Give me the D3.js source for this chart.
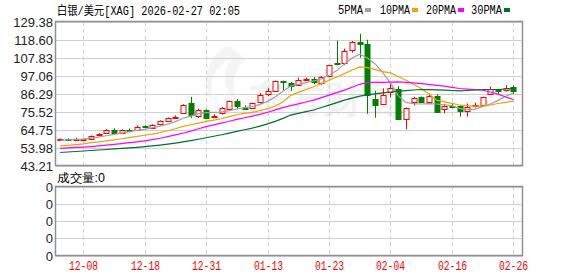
<!DOCTYPE html>
<html>
<head>
<meta charset="utf-8">
<script src="https://cdn.jsdelivr.net/npm/d3@7/dist/d3.min.js"></script>
<style>
  body { margin: 0; background: #fff; }
  text { font-family: "Liberation Sans", Arial, sans-serif; }
  .mono { font-family: "Liberation Mono", "Noto Sans CJK SC", monospace; }
</style>
</head>
<body>
<div id="chart"></div>
<script>
var dates = ["12-03","12-04","12-05","12-08","12-09","12-10","12-11","12-12","12-15","12-16",
  "12-17","12-18","12-19","12-22","12-23","12-24","12-26","12-29","12-30","12-31",
  "01-02","01-05","01-06","01-07","01-08","01-09","01-12","01-13","01-14","01-15",
  "01-16","01-19","01-20","01-21","01-22","01-23","01-26","01-27","01-28","01-29",
  "01-30","02-02","02-03","02-04","02-05","02-06","02-09","02-10","02-11","02-12",
  "02-13","02-16","02-17","02-18","02-19","02-20","02-23","02-24","02-25","02-26"];

var opens  = [58.8,59.0,58.9,59.1,59.3,61.3,62.9,64.5,62.9,64.6, 64.7,66.7,65.9,68.2,70.0,72.3,74.4,80.9,72.8,76.6,
  72.9,74.4,77.2,82.1,77.9,77.4,81.0,85.7,87.7,93.8, 92.6,91.4,94.4,95.0,92.6,97.0,104.6,104.5,112.1,117.4,
  116.1,82.9,80.1,87.3,88.7,71.2,81.1,84.1,81.5,84.7, 76.8,78.9,78.8,75.6,79.3,79.5,85.9,88.9,88.3,89.9];
var highs  = [59.4,59.5,59.8,59.3,61.2,62.5,64.9,65.5,64.9,65.4, 67.1,67.3,67.9,70.2,72.0,73.2,79.9,84.3,77.2,76.8,
  73.9,78.2,82.1,83.1,79.3,80.9,86.6,89.5,94.0,94.0, 93.2,95.8,95.8,96.2,96.8,103.2,118.0,113.1,117.7,122.0,
  118.4,87.9,89.3,92.2,90.7,78.0,84.3,84.5,86.3,85.9, 80.0,80.3,79.2,80.3,80.7,84.3,90.3,89.1,91.3,91.0];
var lows   = [58.5,58.6,58.7,58.9,59.1,60.6,62.3,62.1,62.6,63.6, 64.3,66.0,65.5,67.8,69.7,71.6,74.0,71.6,71.6,71.2,
  71.9,73.6,76.9,76.8,76.3,77.2,80.3,84.7,87.5,88.2, 87.9,90.9,94.2,91.8,91.4,96.6,103.2,103.2,110.7,107.7,
  74.2,71.8,79.5,83.9,71.2,64.9,79.1,80.9,81.3,74.8, 74.4,77.5,72.4,72.4,77.9,79.3,85.5,85.9,87.5,85.9];
var closes = [59.1,58.9,59.1,59.2,60.9,62.3,64.3,62.9,64.7,64.3, 66.5,66.5,67.4,69.8,71.8,72.5,79.7,73.6,76.4,71.4,
  73.0,77.4,81.9,79.0,77.7,80.5,85.5,87.5,93.8,93.2, 90.5,94.6,94.7,93.0,96.2,103.2,104.2,111.9,116.9,116.1,
  85.1,79.5,85.1,89.3,71.2,77.9,83.5,81.1,84.7,75.2, 78.8,78.7,75.6,78.4,79.6,84.3,88.7,87.5,89.5,87.5];

// moving averages
var ma5  = [58.3,58.5,58.8,59.0,59.6,60.2,61.0,61.8,62.6,63.4, 64.2,64.8,65.8,66.8,68.0,69.5,71.5,72.8,74.2,74.8,
  75.0,75.2,76.0,77.0,77.8,78.4,79.8,81.6,84.4,87.6, 90.8,91.8,92.8,93.8,95.0,97.2,100.0,104.0,107.5,109.8,
  107.5,104.0,98.8,92.5,85.0,81.0,80.2,80.0,80.2,80.0, 79.5,79.0,77.4,76.6,77.0,78.4,80.0,82.2,84.6,86.7];
var ma10 = [54.9,55.3,55.7,56.1,56.9,57.4,58.0,58.6,59.2,59.9, 60.6,61.3,62.0,62.9,64.0,65.2,66.6,67.6,68.6,69.6,
  70.4,71.2,72.5,73.6,74.4,75.0,76.0,77.2,78.8,81.2, 85.2,87.0,88.7,90.3,92.2,94.2,96.2,98.2,100.4,102.2,
  101.8,100.6,99.4,98.6,96.5,94.2,91.8,89.3,86.0,82.3, 81.3,80.4,79.4,79.0,78.8,78.8,79.4,80.3,81.0,81.7];
var ma20 = [53.4,53.7,54.0,54.2,54.5,54.9,55.4,55.8,56.3,56.9, 57.4,58.0,58.7,59.5,60.5,61.5,62.5,63.8,65.2,66.5,
  67.5,68.6,69.7,70.8,71.8,72.8,73.8,75.1,76.5,77.8, 79.0,80.1,81.2,82.3,83.8,85.3,86.8,88.3,90.0,91.8,
  93.0,93.0,93.0,93.1,93.2,92.9,92.6,92.2,91.7,91.2, 90.7,90.0,89.3,88.9,88.6,88.3,87.2,85.9,84.2,82.7];
var ma30 = [51.0,51.3,51.6,51.9,52.2,52.5,52.8,53.1,53.4,53.7, 54.1,54.5,54.9,55.4,56.0,56.6,57.3,58.1,58.9,59.8,
  60.7,61.6,62.6,63.6,64.6,65.6,66.8,68.1,69.6,71.4, 73.4,74.4,75.4,76.4,77.9,79.3,80.8,82.3,83.5,84.7,
  85.5,86.1,86.7,87.2,87.7,88.0,88.4,88.7,88.6,88.5, 88.3,88.1,87.9,88.1,88.4,88.7,88.7,88.7,89.0,89.3];

var priceTicks = ["129.38","118.60","107.83","97.06","86.29","75.52","64.75","53.98","43.21"];
var volTicks = ["0","0","0","0","0"];
var dateTicks = ["12-08","12-18","12-31","01-13","01-23","02-04","02-16","02-26"];

var maNames = ["5PMA","10PMA","20PMA","30PMA"];
var maColors = ["#a0a0a0","#f0a000","#ff00ff","#006f30"];
var maSeries = [ma5, ma10, ma20, ma30];

var width = 578, height = 276;
var plotL = 55.5, plotR = 522.5, plotT = 21.5, plotB = 165.5;
var volT = 186.5, volB = 255.5;

var svg = d3.select("#chart").append("svg")
  .attr("width", width).attr("height", height);

var x = d3.scaleLinear().domain([0, dates.length - 1]).range([60.2, 513.4]);
var y = d3.scaleLinear().domain([43.21, 129.38]).range([plotB, plotT]);
var yv = d3.scaleLinear().domain([0, volTicks.length - 1]).range([volT, volB]);

// title
svg.append("text").attr("class", "mono")
  .attr("x", 57).attr("y", 15).attr("font-size", 12).attr("fill", "#000")
  .attr("textLength", 183).attr("lengthAdjust", "spacingAndGlyphs")
  .text("白银/美元[XAG] 2026-02-27 02:05");

// legend
var legX = [338, 380, 426, 471], legW = [25, 30, 30, 31];
maNames.forEach(function(n, i) {
  svg.append("text").attr("class", "mono")
    .attr("x", legX[i]).attr("y", 14).attr("font-size", 12)
    .attr("textLength", legW[i]).attr("lengthAdjust", "spacingAndGlyphs")
    .text(n);
  svg.append("rect")
    .attr("x", legX[i] + legW[i] + 2).attr("y", 8)
    .attr("width", 6).attr("height", 4).attr("fill", maColors[i]);
});

// watermark
var wm = svg.append("g").attr("opacity", 0.06);
wm.append("path")
  .attr("d", "M226,46 C206,58 200,84 214,104 C206,84 214,66 232,58 C222,72 222,90 236,100 C230,82 236,66 246,60 C240,54 234,48 226,46 Z")
  .attr("fill", "#555");
wm.append("text").attr("x", 248).attr("y", 112)
  .attr("font-family", "Noto Sans CJK SC").attr("font-weight", "bold")
  .attr("font-size", 38).attr("fill", "#333").text("东方财富");

// grid
var grid = svg.append("g");
priceTicks.forEach(function(t) {
  var yy = Math.round(y(+t)) + 0.5;
  grid.append("line").attr("x1", plotL).attr("x2", plotR).attr("y1", yy).attr("y2", yy)
    .attr("stroke", "#d0d0d0");
});
volTicks.forEach(function(t, i) {
  var yy = Math.round(yv(i)) + 0.5;
  grid.append("line").attr("x1", plotL).attr("x2", plotR).attr("y1", yy).attr("y2", yy)
    .attr("stroke", "#d0d0d0");
});
dates.forEach(function(d, i) {
  if (dateTicks.indexOf(d) < 0) return;
  var xx = Math.round(x(i)) + 0.5;
  [[plotT, plotB], [volT, volB]].forEach(function(r) {
    grid.append("line").attr("x1", xx).attr("x2", xx).attr("y1", r[0]).attr("y2", r[1])
      .attr("stroke", "#cfcfcf").attr("stroke-dasharray", "4,3");
  });
  svg.append("text").attr("class", "mono")
    .attr("x", xx).attr("y", 270).attr("text-anchor", "middle")
    .attr("font-size", 12).attr("fill", "#ff0000")
    .attr("textLength", 29).attr("lengthAdjust", "spacingAndGlyphs")
    .text(d);
});

// y labels
priceTicks.forEach(function(t) {
  svg.append("text").attr("x", 53).attr("y", y(+t) + 5)
    .attr("text-anchor", "end").attr("font-size", 13).attr("fill", "#222").text(t);
});
volTicks.forEach(function(t, i) {
  svg.append("text").attr("x", 53).attr("y", yv(i) + 5)
    .attr("text-anchor", "end").attr("font-size", 13).attr("fill", "#223").text(t);
});

svg.append("text").attr("x", 57).attr("y", 182).attr("font-size", 12)
  .attr("font-family", "Noto Sans CJK SC").attr("textLength", 48).attr("lengthAdjust", "spacingAndGlyphs")
  .text("成交量:0");

// candles
var up = "#ff0000", down = "#008000";
var candles = svg.append("g");
dates.forEach(function(d, i) {
  var cx = Math.round(x(i)) + 0.5;
  var isUp = closes[i] >= opens[i];
  var col = isUp ? up : down;
  candles.append("line").attr("x1", cx).attr("x2", cx)
    .attr("y1", y(highs[i])).attr("y2", y(lows[i])).attr("stroke", col);
  var y0 = Math.round(y(Math.max(opens[i], closes[i]))) + 0.5;
  var y1 = Math.round(y(Math.min(opens[i], closes[i]))) + 0.5;
  if (y1 - y0 < 1) y1 = y0 + 1;
  candles.append("rect")
    .attr("x", cx - 2.5).attr("y", y0).attr("width", 5).attr("height", y1 - y0)
    .attr("fill", isUp ? "#fff" : down).attr("stroke", col);
});

// moving averages
var line = d3.line().x(function(d, i) { return x(i); }).y(function(d) { return y(d); });
maSeries.forEach(function(s, k) {
  svg.append("path").datum(s).attr("d", line)
    .attr("fill", "none").attr("stroke", maColors[k]).attr("stroke-width", 1.2);
});

// frames
svg.append("rect").attr("x", plotL).attr("y", plotT).attr("width", plotR - plotL).attr("height", plotB - plotT)
  .attr("fill", "none").attr("stroke", "#909090").attr("stroke-width", 1.5);
svg.append("rect").attr("x", plotL).attr("y", volT).attr("width", plotR - plotL).attr("height", volB - volT)
  .attr("fill", "none").attr("stroke", "#909090").attr("stroke-width", 1.5);
</script>
</body>
</html>
